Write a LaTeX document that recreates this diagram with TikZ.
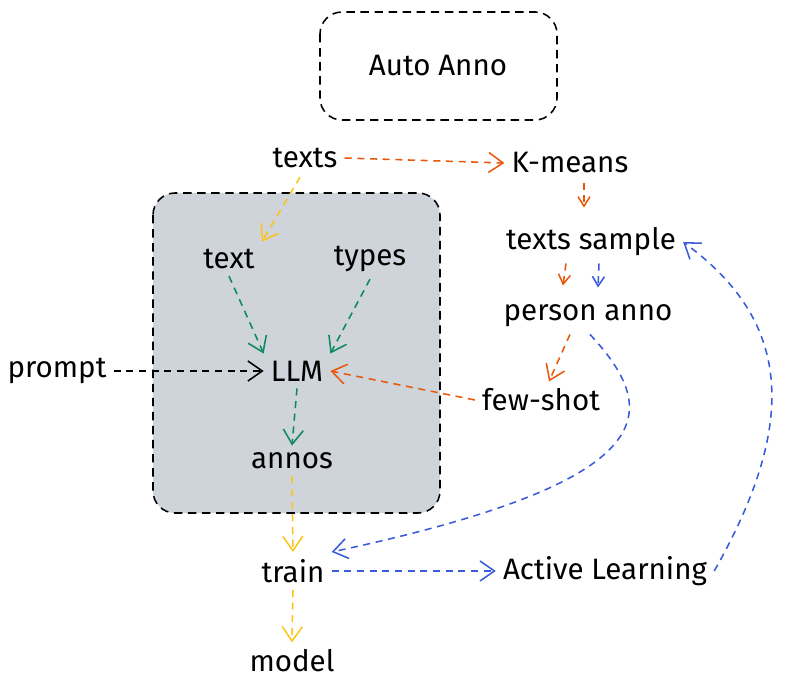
\documentclass[tikz,border=0pt]{standalone}
\usepackage{fontspec}
\setmainfont{Fira Sans}
\usetikzlibrary{arrows.meta}
\definecolor{annored}{HTML}{E8590C}
\definecolor{annoyellow}{HTML}{FCC419}
\definecolor{annogreen}{HTML}{0C8A5C}
\definecolor{annoblue}{HTML}{3B5BDB}
\definecolor{annogray}{HTML}{CED4DA}
\begin{document}
\begin{tikzpicture}
[x=0.025cm,y=-0.025cm,
  worddecorate/.style={inner sep=5pt,font=\fontsize{21}{25}\selectfont},%
  boxdecorate/.style={draw,line width=1.1pt,rounded corners=0.55cm,dash pattern=on 6pt off 4pt},%
  linedecorate/.style={line width=1.1pt,dash pattern=on 5pt off 4pt,
    -{Straight Barb[length=3.6mm,width=5mm]}},%
  shortdecorate/.style={linedecorate,-{Straight Barb[length=2.4mm,width=3mm]}}]
\useasboundingbox (0,0) rectangle (792,690);
%% boxes
\draw[boxdecorate] (320,12) rectangle (557,120);
\draw[boxdecorate,fill=annogray] (153,193) rectangle (440,513);
%% nodes or words
\foreach \nodename/\x/\y/\word in {auto/438/66/Auto Anno, texts/305/158/texts,
  kmeans/570/163/K-means, text/229/259/text, types/370/259/types,
  llm/297/371/LLM, prompt/57/371/prompt, fewshot/541/400/few-shot,
  annos/292/461/annos, sample/591/242/texts sample,
  person/588/316/person anno, train/293/571/train,
  active/605/571/Active Learning, model/292/661/model} {
  \node (\nodename) at (\x,\y) [worddecorate] {\word};
}
%% edges or lines
\draw[linedecorate,annored] (texts.east) -- (kmeans.west);
\draw[linedecorate,annoyellow] (texts.south) ++(-5,2) coordinate (t0) (t0) -- (text.north east);
\draw[shortdecorate,annored] (kmeans.south) ++(14,2) coordinate (k0) (k0) -- ++(0,25);
\draw[shortdecorate,annored] (sample.south) ++(-25,0) coordinate (s0) (s0) -- ++(-3,22);
\draw[shortdecorate,annoblue] (sample.south) ++(8,0) coordinate (s1) (s1) -- ++(-1,24);
\draw[linedecorate,annored] (person.south) ++(-18,0) coordinate (p0) (p0) -- ([xshift=0.2cm]fewshot.north);
\draw[linedecorate,annoblue] (person.south) ++(2,0) coordinate (p1)
  (p1) .. controls (660,410) and (670,480) .. (train.north east);
\draw[linedecorate,annoblue] (active.east) .. controls (800,420) and (790,320) .. (sample.east);
\draw[linedecorate,annoblue] (train.east) -- (active.west);
\draw[linedecorate,annogreen] (text.south) -- (llm.north west);
\draw[linedecorate,annogreen] (types.south) -- (llm.north east);
\draw[linedecorate] (prompt.east) -- (llm.west);
\draw[linedecorate,annored] (fewshot.west) -- (llm.east);
\draw[linedecorate,annogreen] (llm.south) -- (annos.north);
\draw[linedecorate,annoyellow] (annos.south) -- (train.north);
\draw[linedecorate,annoyellow] (train.south) -- (model.north);
\end{tikzpicture}
\end{document}
